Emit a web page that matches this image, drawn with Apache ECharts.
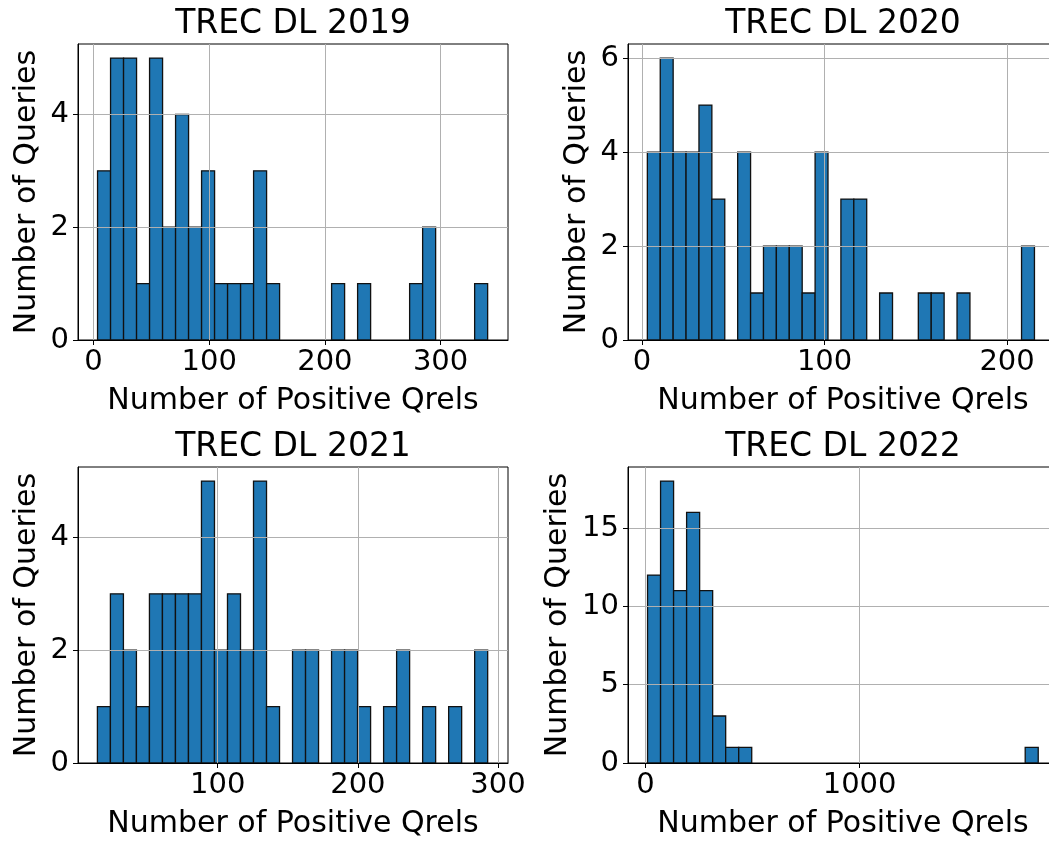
<!DOCTYPE html>
<html><head><meta charset="utf-8">
<script src="https://cdn.jsdelivr.net/npm/echarts@6/dist/echarts.min.js"></script>
<style>html,body{margin:0;padding:0;background:#fff}#c{width:1049px;height:841px}</style>
</head><body><div id="c"></div>
<script>
// ---- data ----
const titles = ['TREC DL 2019', 'TREC DL 2020', 'TREC DL 2021', 'TREC DL 2022'];
const xLabel = 'Number of Positive Qrels';
const yLabel = 'Number of Queries';

// histogram counts, 30 bins each
const counts2019 = [3,5,5,1,5,2,4,2,3,1,1,1,3,1,0,0,0,0,1,0,1,0,0,0,1,2,0,0,0,1];
const counts2020 = [4,6,4,4,5,3,0,4,1,2,2,2,1,4,0,3,3,0,1,0,0,1,1,0,1,0,0,0,0,2];
const counts2021 = [1,3,2,1,3,3,3,3,5,2,3,2,5,1,0,2,2,0,2,2,1,0,1,2,0,1,0,1,0,2];
const counts2022 = [12,18,11,16,11,3,1,1,0,0,0,0,0,0,0,0,0,0,0,0,0,0,0,0,0,0,0,0,0,1];

// data range covered by the bins (first edge, last edge)
const range2019 = [3.5, 340.7];
const range2020 = [2.9, 215.0];
const range2021 = [14.2, 292.6];
const range2022 = [9.3, 1834.6];

// axis view limits
const xLim2019 = [-13.4, 358.3], yLim2019 = [0, 5.25];
const xLim2020 = [-7.7, 227.9],  yLim2020 = [0, 6.3];
const xLim2021 = [0.36, 307.1],  yLim2021 = [0, 5.25];
const xLim2022 = [-82, 1927],    yLim2022 = [0, 18.9];

// tick values
const xTicks2019 = [0, 100, 200, 300], yTicks2019 = [0, 2, 4];
const xTicks2020 = [0, 100, 200],      yTicks2020 = [0, 2, 4, 6];
const xTicks2021 = [100, 200, 300],    yTicks2021 = [0, 2, 4];
const xTicks2022 = [0, 1000],          yTicks2022 = [0, 5, 10, 15];

// ---- build ----
const panels = [
  {counts: counts2019, range: range2019, xl: xLim2019, yl: yLim2019, xt: xTicks2019, yt: yTicks2019},
  {counts: counts2020, range: range2020, xl: xLim2020, yl: yLim2020, xt: xTicks2020, yt: yTicks2020},
  {counts: counts2021, range: range2021, xl: xLim2021, yl: yLim2021, xt: xTicks2021, yt: yTicks2021},
  {counts: counts2022, range: range2022, xl: xLim2022, yl: yLim2022, xt: xTicks2022, yt: yTicks2022}
];
const gridPos = [
  {left: 78, top: 44, width: 430, height: 296},
  {left: 628, top: 44, width: 430, height: 296},
  {left: 78, top: 467, width: 430, height: 296},
  {left: 628, top: 467, width: 430, height: 296}
];
const yNameGap = [36, 36, 36, 55];
const FONT = 'DejaVu Sans';
const BLACK = '#000';
const GRIDC = '#b0b0b0';

const option = {
  animation: false,
  backgroundColor: '#fff',
  title: [], grid: [], xAxis: [], yAxis: [], series: []
};

panels.forEach((p, i) => {
  const g = gridPos[i];
  option.grid.push(Object.assign({
    show: true, borderColor: BLACK, borderWidth: 1, backgroundColor: 'transparent',
    containLabel: false, outerBoundsMode: 'none'
  }, g));
  option.title.push({
    text: titles[i], left: g.left + g.width / 2, top: g.top - 36,
    textAlign: 'center', padding: 0,
    textStyle: {fontFamily: FONT, fontSize: 33, fontWeight: 'normal', color: BLACK}
  });
  option.xAxis.push({
    type: 'value', gridIndex: i, min: p.xl[0], max: p.xl[1], z: 10,
    name: xLabel, nameLocation: 'middle', nameGap: 46,
    nameTextStyle: {fontFamily: FONT, fontSize: 30, color: BLACK},
    axisLine: {show: true, onZero: false, lineStyle: {color: BLACK, width: 1}},
    axisTick: {show: true, length: 5, customValues: p.xt, lineStyle: {color: BLACK, width: 1}},
    axisLabel: {show: true, customValues: p.xt, margin: 8, fontFamily: FONT, fontSize: 29, color: BLACK,
      formatter: v => String(v)},
    splitLine: {show: false}
  });
  option.yAxis.push({
    type: 'value', gridIndex: i, min: p.yl[0], max: p.yl[1], z: 10,
    name: yLabel, nameLocation: 'middle', nameGap: yNameGap[i], nameRotate: 90,
    nameTextStyle: {fontFamily: FONT, fontSize: 30, color: BLACK},
    axisLine: {show: true, onZero: false, lineStyle: {color: BLACK, width: 1}},
    axisTick: {show: true, length: 5, customValues: p.yt, lineStyle: {color: BLACK, width: 1}},
    axisLabel: {show: true, customValues: p.yt, margin: 9, fontFamily: FONT, fontSize: 29, color: BLACK,
      formatter: v => String(v)},
    splitLine: {show: false}
  });
  const n = p.counts.length;
  const w = (p.range[1] - p.range[0]) / n;
  const data = [];
  p.counts.forEach((c, k) => {
    if (c > 0) data.push([p.range[0] + k * w, p.range[0] + (k + 1) * w, c]);
  });
  const gridLines = p.xt.filter(v => v > p.xl[0] && v < p.xl[1]).map(v => ({xAxis: v}))
    .concat(p.yt.filter(v => v > p.yl[0] && v < p.yl[1]).map(v => ({yAxis: v})));
  option.series.push({
    type: 'custom', xAxisIndex: i, yAxisIndex: i, z: 2,
    encode: {x: [0, 1], y: 2},
    data: data,
    renderItem: function (params, api) {
      const a = api.coord([api.value(0), api.value(2)]);
      const b = api.coord([api.value(1), 0]);
      return {
        type: 'rect',
        shape: {x: a[0], y: a[1], width: b[0] - a[0], height: b[1] - a[1]},
        style: {fill: '#1f77b4', stroke: '#111', lineWidth: 1.3}
      };
    },
    markLine: {
      silent: true, symbol: 'none', z: 5, animation: false,
      label: {show: false},
      lineStyle: {color: GRIDC, width: 1, type: 'solid', opacity: 1},
      emphasis: {disabled: true},
      data: gridLines
    }
  });
});

const chart = echarts.init(document.getElementById('c'), null, {renderer: 'canvas'});
chart.setOption(option);
</script>
</body></html>
